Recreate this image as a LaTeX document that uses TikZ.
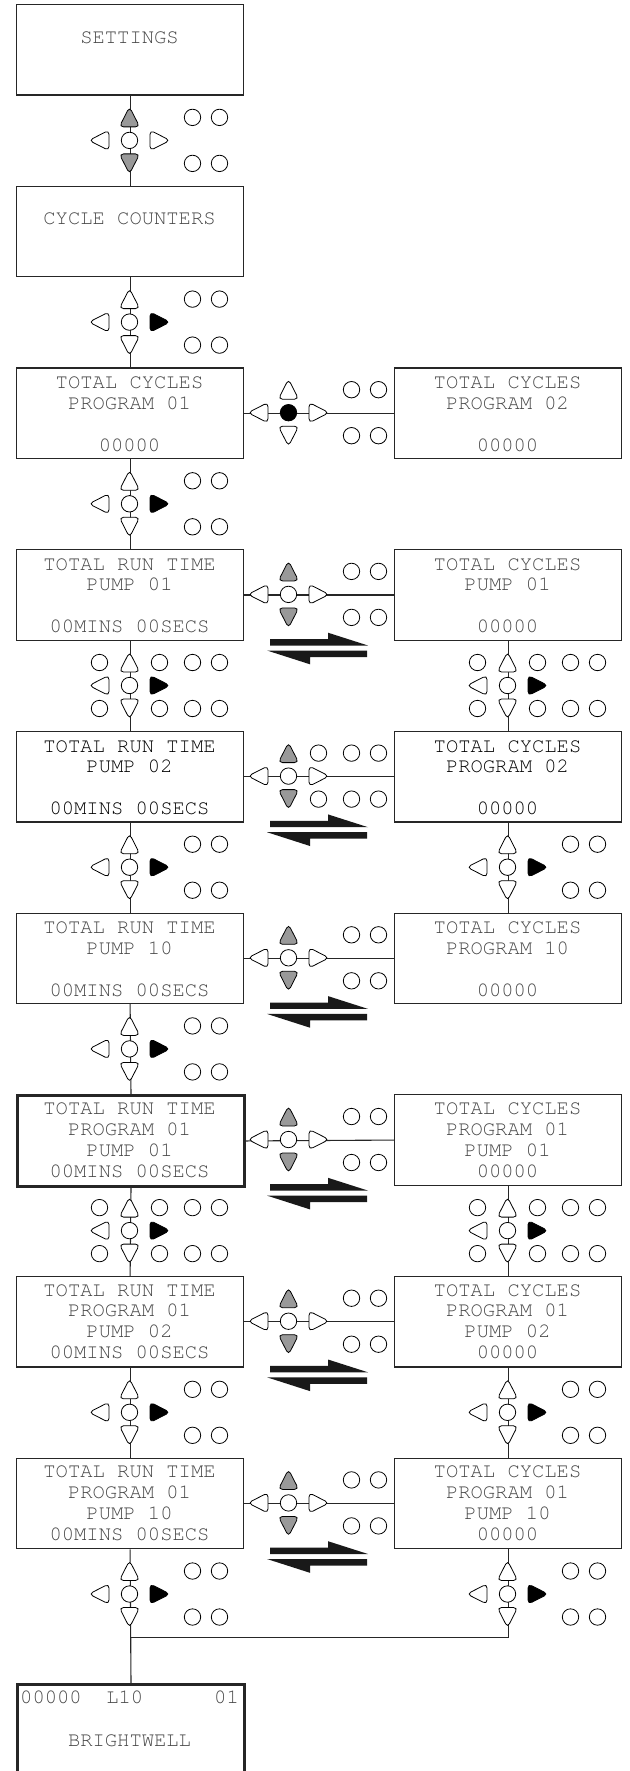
\documentclass[tikz,border=0pt]{standalone}
\usepackage{fontspec}
\newfontfamily\cour{texgyrecursor-regular.otf}
\newcommand\tU[3]{\path[key,fill=#3,shift={(#1,#2)}] (0,-10.5) -- (10.2,9.5) -- (-10.2,9.5) -- cycle;}
\newcommand\tD[3]{\path[key,fill=#3,shift={(#1,#2)}] (0,10.5) -- (10.2,-9.5) -- (-10.2,-9.5) -- cycle;}
\newcommand\tL[3]{\path[key,fill=#3,shift={(#1,#2)}] (-10.5,0) -- (9.5,-10.2) -- (9.5,10.2) -- cycle;}
\newcommand\tR[3]{\path[key,fill=#3,shift={(#1,#2)}] (10.5,0) -- (-9.5,-10.2) -- (-9.5,10.2) -- cycle;}
\newcommand\cK[3]{\path[keyc,fill=#3] (#1,#2) circle[radius=8.2];}
\newcommand\kpd[5]{%
  \tU{#1}{#2-23}{#3}
  \tD{#1}{#2+23}{#3}
  \cK{#1}{#2}{#4}
  \tL{#1-30}{#2}{white}
  \tR{#1+30}{#2}{#5}
  \foreach \dx in {63,90}{\foreach \dy in {-23,23}{\cK{#1+\dx}{#2+\dy}{white}}}%
}
\newcommand\exc[3]{\foreach \dx in {#3}{\foreach \dy in {-23,23}{\cK{#1+\dx}{#2+\dy}{white}}}}
\newcommand\harp[1]{%
  \fill[harp] (270,#1+90) -- (328,#1+90) -- (328,#1+83.6) -- (368,#1+96.4) -- (270,#1+96.4) -- cycle;
  \fill[harp] (367,#1+101.4) -- (267,#1+101.4) -- (310,#1+115.2) -- (310,#1+107.9) -- (367,#1+107.9) -- cycle;
}
\newcommand\boxthree[7]{% textstyle, name, x, T, l1, l2, l3
  \node[box] (#2) at (#3,#4) {};
  \node[#1] (#2a) at (#3+113.5,#4+21.3) {#5};
  \node[#1] (#2b) at (#3+113.5,#4+41.8) {#6};
  \node[#1] (#2c) at (#3+113.5,#4+83.8) {#7};
}
\newcommand\boxfour[9]{% boxstyle, textstyle, name, x, T, l1..l4
  \node[#1] (#3) at (#4,#5) {};
  \node[#2] (#3a) at (#4+113.5,#5+20.3) {#6};
  \node[#2] (#3b) at (#4+113.5,#5+40.8) {#7};
  \node[#2] (#3c) at (#4+113.5,#5+61.8) {#8};
  \node[#2] (#3d) at (#4+113.5,#5+82.8) {#9};
}
\begin{document}
\begin{tikzpicture}[x=1pt,y=-1pt,
  box/.style={draw=black!85, line width=1.2pt, minimum width=227pt, minimum height=90.5pt, inner sep=0pt, anchor=north west},
  thick box/.style={box, line width=3pt},
  txt/.style={anchor=base, inner sep=0pt, font=\cour\fontsize{20.5}{20.5}\selectfont, text=black!72},
  dtxt/.style={txt, text=black},
  wire/.style={draw=black!85, line width=1.1pt},
  keyc/.style={draw=black, line width=0.8pt},
  key/.style={keyc, rounded corners=4.2pt},
  harp/.style={fill=black!90},
]
\useasboundingbox (0,0) rectangle (629,1771);
\clip (0,0) rectangle (629,1771);

% boxes
\node[box] (S) at (16,4) {};
\node[txt] (St) at (129.5,43.3) {SETTINGS};
\node[box] (CC) at (16,185.7) {};
\node[txt] (CCt) at (129.5,225) {CYCLE COUNTERS};

\boxthree{txt}{L2}{16}{367.4}{TOTAL CYCLES}{PROGRAM 01}{00000}
\boxthree{txt}{R2}{394}{367.4}{TOTAL CYCLES}{PROGRAM 02}{00000}
\boxthree{txt}{L3}{16}{549.1}{TOTAL RUN TIME}{PUMP 01}{00MINS 00SECS}
\boxthree{txt}{R3}{394}{549.1}{TOTAL CYCLES}{PUMP 01}{00000}
\boxthree{dtxt}{L4}{16}{730.8}{TOTAL RUN TIME}{PUMP 02}{00MINS 00SECS}
\boxthree{dtxt}{R4}{394}{730.8}{TOTAL CYCLES}{PROGRAM 02}{00000}
\boxthree{txt}{L5}{16}{912.5}{TOTAL RUN TIME}{PUMP 10}{00MINS 00SECS}
\boxthree{txt}{R5}{394}{912.5}{TOTAL CYCLES}{PROGRAM 10}{00000}
\boxfour{thick box}{txt}{L6}{16}{1094.2}{TOTAL RUN TIME}{PROGRAM 01}{PUMP 01}{00MINS 00SECS}
\boxfour{box}{txt}{R6}{394}{1094.2}{TOTAL CYCLES}{PROGRAM 01}{PUMP 01}{00000}
\boxfour{box}{txt}{L7}{16}{1275.9}{TOTAL RUN TIME}{PROGRAM 01}{PUMP 02}{00MINS 00SECS}
\boxfour{box}{txt}{R7}{394}{1275.9}{TOTAL CYCLES}{PROGRAM 01}{PUMP 02}{00000}
\boxfour{box}{txt}{L8}{16}{1457.6}{TOTAL RUN TIME}{PROGRAM 01}{PUMP 10}{00MINS 00SECS}
\boxfour{box}{txt}{R8}{394}{1457.6}{TOTAL CYCLES}{PROGRAM 01}{PUMP 10}{00000}

\node[thick box, minimum height=120pt] (BW) at (16,1683) {};
\node[txt, anchor=base west] (BWa) at (20,1703.8) {00000\ \ L10};
\node[txt, anchor=base east] (BWb) at (239,1703.8) {01};
\node[txt] (BWc) at (129.5,1746.8) {BRIGHTWELL};

% wires
\draw[wire] (S.south) -- (CC.north);
\draw[wire] (CC.south) -- (L2.north);
\draw[wire] (L2.south) -- (L3.north);
\draw[wire] (L3.south) -- (L4.north);
\draw[wire] (L4.south) -- (L5.north);
\draw[wire] (L5.south) -- (L6.north);
\draw[wire] (L6.south) -- (L7.north);
\draw[wire] (L7.south) -- (L8.north);
\draw[wire] (L8.south) -- (BW.north);
\draw[wire] (R3.south) -- (R4.north);
\draw[wire] (R4.south) -- (R5.north);
\draw[wire] (R6.south) -- (R7.north);
\draw[wire] (R7.south) -- (R8.north);
\coordinate (J) at (129.5,1637.7);
\draw[wire] (R8.south) |- (J);
\foreach \r in {2,...,8}{\draw[wire] (L\r.east) -- (R\r.west);}

% vertical keypads
\kpd{129.5}{140.4}{black!40}{white}{white}
\kpd{129.5}{322.1}{white}{white}{black}
\kpd{129.5}{503.8}{white}{white}{black}
\kpd{129.5}{685.5}{white}{white}{black}\exc{129.5}{685.5}{-30,30}
\kpd{507.5}{685.5}{white}{white}{black}\exc{507.5}{685.5}{-30,30}
\kpd{129.5}{867.2}{white}{white}{black}
\kpd{507.5}{867.2}{white}{white}{black}
\kpd{129.5}{1048.9}{white}{white}{black}
\kpd{129.5}{1230.6}{white}{white}{black}\exc{129.5}{1230.6}{-30,30}
\kpd{507.5}{1230.6}{white}{white}{black}\exc{507.5}{1230.6}{-30,30}
\kpd{129.5}{1412.3}{white}{white}{black}
\kpd{507.5}{1412.3}{white}{white}{black}
\kpd{129.5}{1594}{white}{white}{black}
\kpd{507.5}{1594}{white}{white}{black}

% horizontal keypads
\kpd{288.5}{412.7}{white}{black}{white}
\kpd{288.5}{594.4}{black!40}{white}{white}
\kpd{288.5}{776.1}{black!40}{white}{white}\exc{288.5}{776.1}{30}
\kpd{288.5}{957.8}{black!40}{white}{white}
\kpd{288.5}{1139.5}{black!40}{white}{white}
\kpd{288.5}{1321.2}{black!40}{white}{white}
\kpd{288.5}{1502.9}{black!40}{white}{white}

% harpoons
\harp{549.1}
\harp{730.8}
\harp{912.5}
\harp{1094.2}
\harp{1275.9}
\harp{1457.6}
\end{tikzpicture}
\end{document}
